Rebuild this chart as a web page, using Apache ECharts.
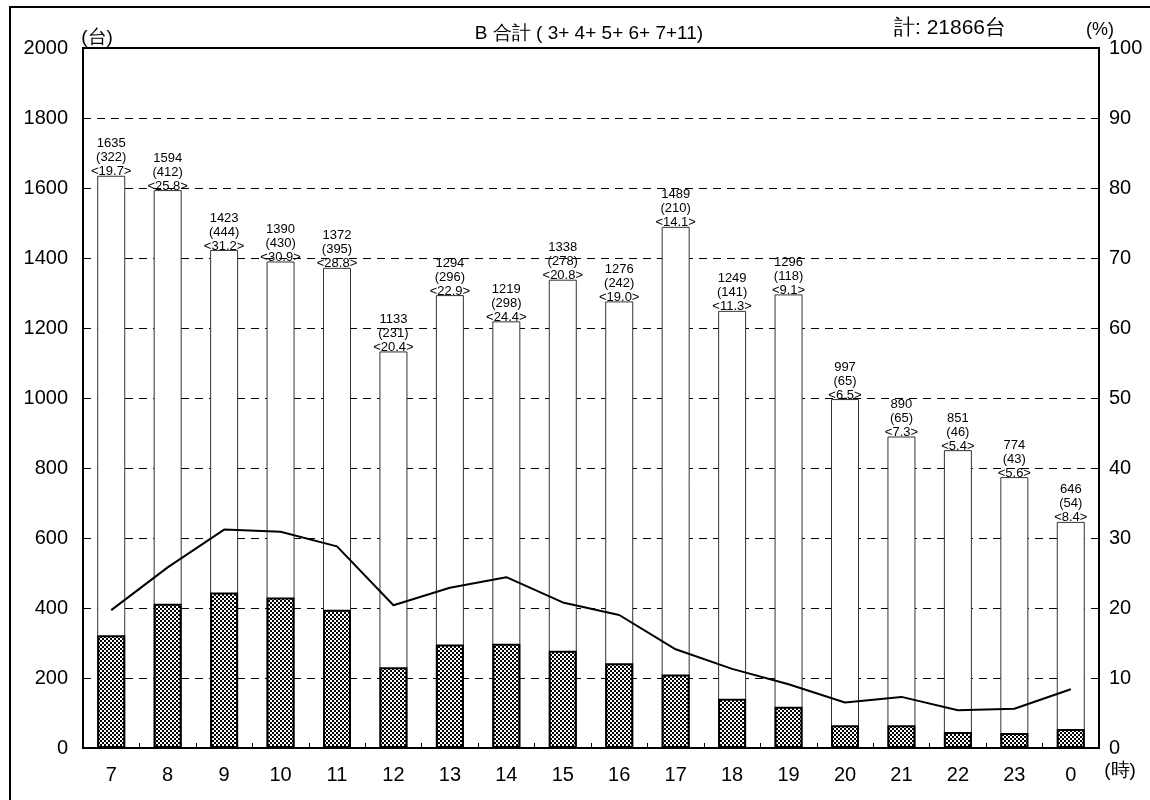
<!DOCTYPE html>
<html>
<head>
<meta charset="utf-8">
<script src="https://cdn.jsdelivr.net/npm/echarts@6/dist/echarts.min.js"></script>
<style>
  html, body { margin: 0; padding: 0; background: #fff; }
  #chart { width: 1150px; height: 800px; }
</style>
</head>
<body>
<div id="chart"></div>
<script>
  // 時間帯
  const hours = ['7', '8', '9', '10', '11', '12', '13', '14', '15', '16', '17', '18', '19', '20', '21', '22', '23', '0'];
  // 合計台数
  const totals = [1635, 1594, 1423, 1390, 1372, 1133, 1294, 1219, 1338, 1276, 1489, 1249, 1296, 997, 890, 851, 774, 646];
  // 大型車台数
  const large = [322, 412, 444, 430, 395, 231, 296, 298, 278, 242, 210, 141, 118, 65, 65, 46, 43, 54];
  // 大型車混入率 (%)
  const ratio = [19.7, 25.8, 31.2, 30.9, 28.8, 20.4, 22.9, 24.4, 20.8, 19.0, 14.1, 11.3, 9.1, 6.5, 7.3, 5.4, 5.6, 8.4];

  // 網掛けパターン
  function makePattern () {
    let c = document.createElement('canvas');
    c.width = 4;
    c.height = 4;
    let ctx = c.getContext('2d');
    ctx.fillStyle = '#ffffff';
    ctx.fillRect(0, 0, 4, 4);
    ctx.fillStyle = '#000000';
    ctx.fillRect(0, 0, 2, 2);
    ctx.fillRect(2, 2, 2, 2);
    return c;
  }

  const font = 'Liberation Sans, Arial, sans-serif';
  let myChart = echarts.init(document.getElementById('chart'));
  myChart.setOption({
    animation: false,
    textStyle: { fontFamily: font },
    grid: {
      left: 83,
      right: 51,
      top: 48,
      bottom: 52,
      show: true,
      borderColor: '#000',
      borderWidth: 2,
      backgroundColor: 'transparent'
    },
    graphic: [
      {
        type: 'rect',
        shape: { x: 10, y: 7, width: 1160, height: 820 },
        style: { fill: null, stroke: '#000', lineWidth: 2 },
        silent: true
      },
      {
        type: 'text', x: 589, y: 34,
        style: { text: 'B 合計 ( 3+ 4+ 5+ 6+ 7+11)', fontSize: 19, fill: '#000', fontFamily: font, align: 'center', verticalAlign: 'middle' }
      },
      {
        type: 'text', x: 950, y: 28,
        style: { text: '計: 21866台', fontSize: 21, fill: '#000', fontFamily: font, align: 'center', verticalAlign: 'middle' }
      },
      {
        type: 'text', x: 97, y: 38,
        style: { text: '(台)', fontSize: 19, fill: '#000', fontFamily: font, align: 'center', verticalAlign: 'middle' }
      },
      {
        type: 'text', x: 1100, y: 30,
        style: { text: '(%)', fontSize: 18, fill: '#000', fontFamily: font, align: 'center', verticalAlign: 'middle' }
      },
      {
        type: 'text', x: 1120, y: 771,
        style: { text: '(時)', fontSize: 19, fill: '#000', fontFamily: font, align: 'center', verticalAlign: 'middle' }
      }
    ],
    xAxis: {
      type: 'category',
      data: hours,
      axisLine: { lineStyle: { color: '#000', width: 2 } },
      axisTick: { show: true, inside: true, length: 5, lineStyle: { color: '#000' } },
      axisLabel: { color: '#000', fontSize: 20, margin: 17 }
    },
    yAxis: [
      {
        type: 'value',
        min: 0,
        max: 2000,
        interval: 200,
        axisLine: { show: true, lineStyle: { color: '#000', width: 2 } },
        axisTick: { show: false },
        axisLabel: { color: '#000', fontSize: 20, margin: 15, formatter: function (v) { return String(v); } },
        splitLine: { lineStyle: { color: '#000', type: [8, 6], width: 1 } }
      },
      {
        type: 'value',
        min: 0,
        max: 100,
        interval: 10,
        axisLine: { show: true, lineStyle: { color: '#000', width: 2 } },
        axisTick: { show: false },
        axisLabel: { color: '#000', fontSize: 20, margin: 10 },
        splitLine: { show: false }
      }
    ],
    series: [
      {
        name: '合計',
        type: 'bar',
        data: totals,
        barWidth: 28,
        barGap: '-100%',
        itemStyle: { color: '#fff', borderColor: '#333', borderWidth: 1 },
        label: {
          show: true,
          position: 'top',
          distance: -3,
          color: '#000',
          fontSize: 13,
          lineHeight: 14,
          formatter: function (p) {
            let i = p.dataIndex;
            return totals[i] + '\n(' + large[i] + ')\n<' + ratio[i].toFixed(1) + '>';
          }
        },
        z: 2
      },
      {
        name: '大型車',
        type: 'bar',
        data: large,
        barWidth: 28,
        barGap: '-100%',
        itemStyle: {
          color: { image: makePattern(), repeat: 'repeat' },
          borderColor: '#000',
          borderWidth: 2
        },
        z: 3
      },
      {
        name: '混入率',
        type: 'line',
        yAxisIndex: 1,
        data: ratio,
        symbol: 'none',
        lineStyle: { color: '#000', width: 2 },
        z: 4
      }
    ]
  });
</script>
</body>
</html>
